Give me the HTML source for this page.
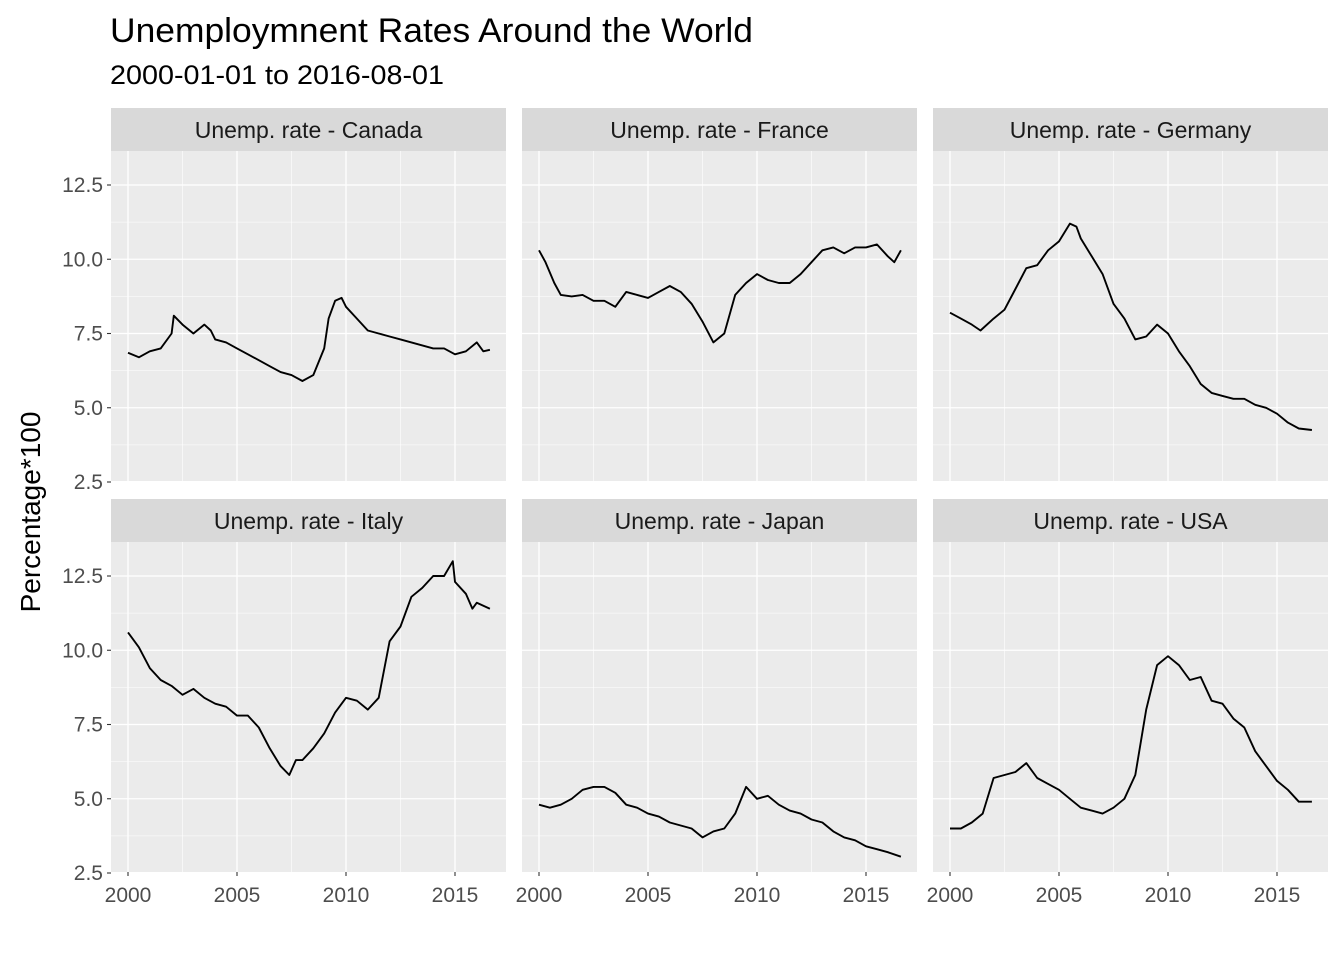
<!DOCTYPE html>
<html><head><meta charset="utf-8"><style>
body{margin:0;background:#fff;font-family:"Liberation Sans",sans-serif}
</style></head><body>
<svg id="chart" width="1344" height="960" xmlns="http://www.w3.org/2000/svg" font-family="Liberation Sans, sans-serif">
<text x="110" y="42" font-size="34" fill="#000" textLength="643" lengthAdjust="spacingAndGlyphs">Unemploymnent Rates Around the World</text>
<text x="110" y="84" font-size="27" fill="#000" textLength="334" lengthAdjust="spacingAndGlyphs">2000-01-01 to 2016-08-01</text>
<text transform="translate(40,512) rotate(-90)" text-anchor="middle" font-size="28" fill="#000">Percentage*100</text>
<g id="panels"></g>
</svg>
<script>
const countries=["Canada","France","Germany","Italy","Japan","USA"];
const xTicks=[2000,2005,2010,2015];
const yTicks=[2.5,5.0,7.5,10.0,12.5];
const yTickLabels=["2.5","5.0","7.5","10.0","12.5"];
const canadaYears=[2000,2000.5,2001,2001.5,2002,2002.1,2002.5,2003,2003.5,2003.8,2004,2004.5,2005,2005.5,2006,2006.5,2007,2007.5,2008,2008.5,2009,2009.2,2009.5,2009.8,2010,2010.5,2011,2011.5,2012,2012.5,2013,2013.5,2014,2014.5,2015,2015.5,2016,2016.3,2016.6];
const canadaValues=[6.85,6.7,6.9,7.0,7.5,8.1,7.8,7.5,7.8,7.6,7.3,7.2,7.0,6.8,6.6,6.4,6.2,6.1,5.9,6.1,7.0,8.0,8.6,8.7,8.4,8.0,7.6,7.5,7.4,7.3,7.2,7.1,7.0,7.0,6.8,6.9,7.2,6.9,6.95];
const franceYears=[2000,2000.3,2000.7,2001,2001.5,2002,2002.5,2003,2003.5,2004,2004.5,2005,2005.5,2006,2006.5,2007,2007.5,2008,2008.5,2009,2009.5,2010,2010.5,2011,2011.5,2012,2012.5,2013,2013.5,2014,2014.5,2015,2015.5,2016,2016.3,2016.6];
const franceValues=[10.3,9.9,9.2,8.8,8.75,8.8,8.6,8.6,8.4,8.9,8.8,8.7,8.9,9.1,8.9,8.5,7.9,7.2,7.5,8.8,9.2,9.5,9.3,9.2,9.2,9.5,9.9,10.3,10.4,10.2,10.4,10.4,10.5,10.1,9.9,10.3];
const germanyYears=[2000,2000.5,2001,2001.4,2002,2002.5,2003,2003.5,2004,2004.5,2005,2005.5,2005.8,2006,2006.5,2007,2007.5,2008,2008.5,2009,2009.5,2010,2010.5,2011,2011.5,2012,2012.5,2013,2013.5,2014,2014.5,2015,2015.5,2016,2016.6];
const germanyValues=[8.2,8.0,7.8,7.6,8.0,8.3,9.0,9.7,9.8,10.3,10.6,11.2,11.1,10.7,10.1,9.5,8.5,8.0,7.3,7.4,7.8,7.5,6.9,6.4,5.8,5.5,5.4,5.3,5.3,5.1,5.0,4.8,4.5,4.3,4.25];
const italyYears=[2000,2000.5,2001,2001.5,2002,2002.5,2003,2003.5,2004,2004.5,2005,2005.5,2006,2006.5,2007,2007.4,2007.7,2008,2008.5,2009,2009.5,2010,2010.5,2011,2011.5,2012,2012.5,2013,2013.5,2014,2014.5,2014.9,2015,2015.5,2015.8,2016,2016.6];
const italyValues=[10.6,10.1,9.4,9.0,8.8,8.5,8.7,8.4,8.2,8.1,7.8,7.8,7.4,6.7,6.1,5.8,6.3,6.3,6.7,7.2,7.9,8.4,8.3,8.0,8.4,10.3,10.8,11.8,12.1,12.5,12.5,13.0,12.3,11.9,11.4,11.6,11.4];
const japanYears=[2000,2000.5,2001,2001.5,2002,2002.5,2003,2003.5,2004,2004.5,2005,2005.5,2006,2006.5,2007,2007.5,2008,2008.5,2009,2009.5,2010,2010.5,2011,2011.5,2012,2012.5,2013,2013.5,2014,2014.5,2015,2015.5,2016,2016.6];
const japanValues=[4.8,4.7,4.8,5.0,5.3,5.4,5.4,5.2,4.8,4.7,4.5,4.4,4.2,4.1,4.0,3.7,3.9,4.0,4.5,5.4,5.0,5.1,4.8,4.6,4.5,4.3,4.2,3.9,3.7,3.6,3.4,3.3,3.2,3.05];
const usaYears=[2000,2000.5,2001,2001.5,2002,2002.5,2003,2003.5,2004,2004.5,2005,2005.5,2006,2006.5,2007,2007.5,2008,2008.5,2009,2009.5,2010,2010.5,2011,2011.5,2012,2012.5,2013,2013.5,2014,2014.5,2015,2015.5,2016,2016.6];
const usaValues=[4.0,4.0,4.2,4.5,5.7,5.8,5.9,6.2,5.7,5.5,5.3,5.0,4.7,4.6,4.5,4.7,5.0,5.8,8.0,9.5,9.8,9.5,9.0,9.1,8.3,8.2,7.7,7.4,6.6,6.1,5.6,5.3,4.9,4.9];
const seriesYears=[canadaYears,franceYears,germanyYears,italyYears,japanYears,usaYears];
const seriesValues=[canadaValues,franceValues,germanyValues,italyValues,japanValues,usaValues];

const NS="http://www.w3.org/2000/svg";
const g=document.getElementById("panels");
function mk(tag,attrs,parent){const e=document.createElementNS(NS,tag);for(const k in attrs)e.setAttribute(k,attrs[k]);(parent||g).appendChild(e);return e;}
const colLeft=[111,522,933], panelW=395, rowStrip=[108,499], stripH=43, panelH=330;
for(let i=0;i<6;i++){
  const c=i%3,r=Math.floor(i/3);
  const L=colLeft[c], T=rowStrip[r]+stripH, B=T+panelH;
  const xs=v=>L+17+(v-2000)*21.8;
  const ys=v=>B+1-(v-2.5)*29.7;
  const pg=mk("g",{});
  
  
  const st=mk("rect",{x:L,y:rowStrip[r],width:panelW,height:stripH,fill:"#D9D9D9"},pg);
  
  
  const stt=mk("text",{x:L+panelW/2,y:rowStrip[r]+30,"text-anchor":"middle","font-size":"23","fill":"#1A1A1A"},pg);
  stt.textContent="Unemp. rate - "+countries[i];
  
  
  const bg=mk("rect",{x:L,y:T,width:panelW,height:panelH,fill:"#EBEBEB"},pg);
  
  
  for(const t of [2002.5,2007.5,2012.5]){const l=mk("line",{x1:xs(t),x2:xs(t),y1:T,y2:B,stroke:"#fff","stroke-width":0.6},pg);}
  for(const t of [3.75,6.25,8.75,11.25]){const l=mk("line",{x1:L,x2:L+panelW,y1:ys(t),y2:ys(t),stroke:"#fff","stroke-width":0.6},pg);}
  xTicks.forEach(t=>{const l=mk("line",{x1:xs(t),x2:xs(t),y1:T,y2:B,stroke:"#fff","stroke-width":1.3},pg);});
  yTicks.forEach(t=>{if(ys(t)<=B+1){const l=mk("line",{x1:L,x2:L+panelW,y1:ys(t),y2:ys(t),stroke:"#fff","stroke-width":1.3},pg);}});
  const ys_=seriesYears[i], vs=seriesValues[i];
  const d=ys_.map((y,k)=>(k?"L":"M")+xs(y).toFixed(1)+","+ys(vs[k]).toFixed(1)).join("");
  const p=mk("path",{d:d,fill:"none",stroke:"#000","stroke-width":1.9,"stroke-linejoin":"round"},pg);
  
  
  if(c===0){
    yTicks.forEach((t,k)=>{
      const tk=mk("line",{x1:L-4,x2:L,y1:ys(t),y2:ys(t),stroke:"#333","stroke-width":1.1},pg);
      
      
      const tx=mk("text",{x:L-8,y:ys(t)+7,"text-anchor":"end","font-size":"21",fill:"#4D4D4D"},pg);
      tx.textContent=yTickLabels[k];
      
      
    });
  }
  if(r===1){
    xTicks.forEach(t=>{
      const tk=mk("line",{x1:xs(t),x2:xs(t),y1:B,y2:B+4,stroke:"#333","stroke-width":1.1},pg);
      
      
      const tx=mk("text",{x:xs(t),y:B+30,"text-anchor":"middle","font-size":"21",fill:"#4D4D4D"},pg);
      tx.textContent=String(t);
      
      
    });
  }
}
</script>
</body></html>
